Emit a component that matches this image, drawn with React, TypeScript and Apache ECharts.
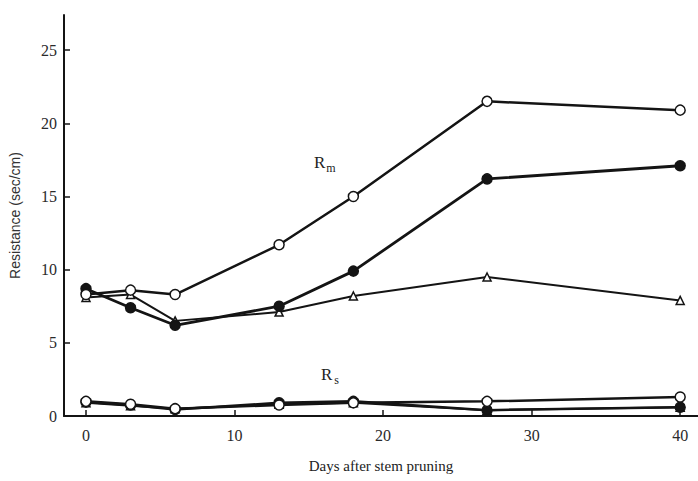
import React, { useEffect, useRef } from "react";
import * as echarts from "echarts";

const days = [0, 3, 6, 13, 18, 27, 40];
const rmOpen = [8.3, 8.6, 8.3, 11.7, 15.0, 21.5, 20.9];
const rmFilled = [8.7, 7.4, 6.2, 7.5, 9.9, 16.2, 17.1];
const rmTriangle = [8.1, 8.3, 6.5, 7.1, 8.2, 9.5, 7.9];
const rsOpen = [1.0, 0.8, 0.5, 0.75, 0.9, 1.0, 1.3];
const rsFilled = [0.95, 0.75, 0.45, 0.9, 1.0, 0.4, 0.6];
const rsTriangle = [0.9, 0.7, 0.5, 0.8, 0.9, 0.4, 0.6];
const xTicks = [0, 10, 20, 30, 40];
const yTicks = [0, 5, 10, 15, 20, 25];

const ink = "#141414";

function pairs(vals: number[]) {
  return days.map((d, i) => [d, vals[i]]);
}

function mk(name: string, vals: number[], kind: "open" | "filled" | "tri", width: number) {
  const isTri = kind === "tri";
  return {
    name,
    type: "line",
    data: pairs(vals),
    symbol: isTri ? "triangle" : "circle",
    symbolSize: isTri ? 8 : 10,
    showAllSymbol: true,
    lineStyle: { color: ink, width },
    itemStyle: {
      color: kind === "filled" ? ink : "#ffffff",
      borderColor: ink,
      borderWidth: 1.5,
    },
    z: kind === "open" ? 4 : kind === "filled" ? 3 : 2,
    emphasis: { disabled: true },
  };
}

export default function App() {
  const ref = useRef<HTMLDivElement>(null);
  useEffect(() => {
    if (!ref.current) return;
    const chart = echarts.init(ref.current, null, { renderer: "svg" });
    chart.setOption({
      animation: false,
      backgroundColor: "#ffffff",
      grid: { left: 62, right: 0, top: 15, bottom: 65, containLabel: false },
      xAxis: {
        type: "value",
        min: -1.48,
        max: 41.2,
        splitLine: { show: false },
        axisLine: { onZero: false, lineStyle: { color: ink, width: 2 } },
        axisTick: {
          inside: true,
          length: 6,
          customValues: xTicks,
          lineStyle: { color: ink, width: 1.5 },
        },
        axisLabel: {
          customValues: xTicks,
          color: "#2a2a2a",
          fontFamily: "Liberation Serif, serif",
          fontSize: 16,
          margin: 11,
        },
        name: "Days after stem pruning",
        nameLocation: "middle",
        nameGap: 42,
        nameTextStyle: {
          color: "#222",
          fontFamily: "Liberation Serif, serif",
          fontSize: 15,
        },
      },
      yAxis: {
        type: "value",
        min: 0,
        max: 27.4,
        splitLine: { show: false },
        axisLine: { show: true, onZero: false, lineStyle: { color: ink, width: 2 } },
        axisTick: {
          inside: true,
          length: 6,
          customValues: yTicks,
          lineStyle: { color: ink, width: 1.5 },
        },
        axisLabel: {
          customValues: yTicks,
          color: "#2a2a2a",
          fontFamily: "Liberation Serif, serif",
          fontSize: 16,
          margin: 7,
        },
        name: "Resistance (sec/cm)",
        nameLocation: "middle",
        nameGap: 42,
        nameTextStyle: {
          color: "#333",
          fontFamily: "Liberation Sans, Arial, sans-serif",
          fontSize: 14,
        },
      },
      graphic: [
        {
          type: "text",
          left: 314,
          top: 154,
          style: {
            text: "{r|R}{s|m}",
            rich: {
              r: { fontFamily: "Liberation Serif, serif", fontSize: 17, fill: "#222" },
              s: { fontFamily: "Liberation Serif, serif", fontSize: 12, fill: "#222", padding: [10, 0, 0, 1] },
            },
          },
        },
        {
          type: "text",
          left: 321,
          top: 366,
          style: {
            text: "{r|R}{s|s}",
            rich: {
              r: { fontFamily: "Liberation Serif, serif", fontSize: 17, fill: "#222" },
              s: { fontFamily: "Liberation Serif, serif", fontSize: 12, fill: "#222", padding: [10, 0, 0, 2] },
            },
          },
        },
      ],
      series: [
        mk("Rm triangle", rmTriangle, "tri", 2),
        mk("Rm filled", rmFilled, "filled", 2.8),
        mk("Rm open", rmOpen, "open", 2.5),
        mk("Rs triangle", rsTriangle, "tri", 2),
        mk("Rs filled", rsFilled, "filled", 2.5),
        mk("Rs open", rsOpen, "open", 2.5),
      ],
    });
    return () => chart.dispose();
  }, []);
  return <div ref={ref} style={{ width: 698, height: 481, position: "absolute", left: 0, top: 0 }} />;
}
